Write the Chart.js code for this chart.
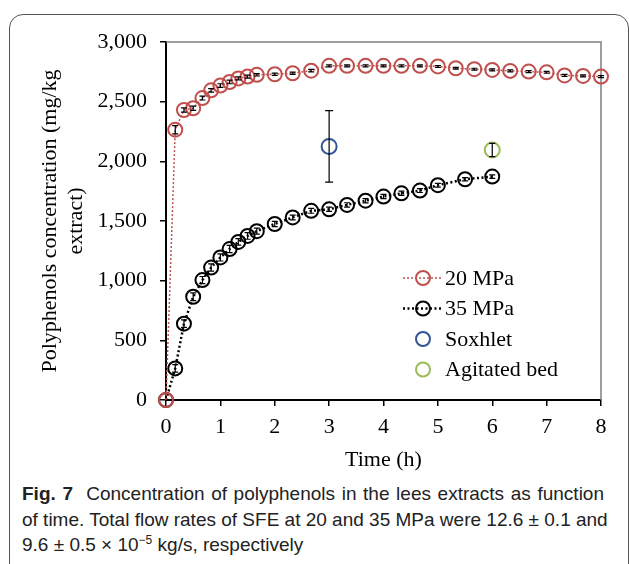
<!DOCTYPE html>
<html>
<head>
<meta charset="utf-8">
<script src="https://cdn.jsdelivr.net/npm/chart.js@4"></script>
<style>
  body { margin: 0; background: #fff; width: 629px; height: 564px; overflow: hidden; position: relative; }
  #frame { position: absolute; left: 9px; top: 14px; width: 618px; height: 600px; border: 1.5px solid #555; border-radius: 14px; }
  #wrap { position: absolute; left: 0; top: 0; width: 629px; height: 478px; }
  #caption { position: absolute; left: 22px; top: 481px; width: 582px; font-family: "Liberation Sans", Arial, sans-serif; font-size: 19px; line-height: 25.5px; color: #222; }
  #caption .j { text-align: justify; text-align-last: justify; white-space: nowrap; }
  #caption b { font-weight: bold; }
  sup { font-size: 12px; line-height: 0; vertical-align: 7px; }
</style>
</head>
<body>
<div id="frame"></div>
<div id="wrap"><canvas id="chart" width="629" height="478"></canvas></div>
<div id="caption">
  <div class="j"><b>Fig. 7</b>&nbsp; Concentration of polyphenols in the lees extracts as function</div>
  <div class="j">of time. Total flow rates of SFE at 20 and 35 MPa were 12.6 ± 0.1 and</div>
  <div>9.6 ± 0.5 × 10<sup>−5</sup> kg/s, respectively</div>
</div>
<script>
// time (h) and polyphenol concentration (mg/kg extract)
const time20 = [0, 0.17, 0.33, 0.5, 0.67, 0.83, 1, 1.17, 1.33, 1.5, 1.67, 2, 2.33, 2.67, 3, 3.33, 3.67, 4, 4.33, 4.67, 5, 5.33, 5.67, 6, 6.33, 6.67, 7, 7.33, 7.67, 8];
const conc20 = [0, 2265, 2430, 2445, 2530, 2595, 2635, 2665, 2695, 2710, 2725, 2730, 2738, 2760, 2800, 2800, 2800, 2800, 2800, 2800, 2795, 2780, 2772, 2766, 2758, 2752, 2746, 2720, 2716, 2710];
const err20 = [0, 35, 18, 18, 16, 15, 15, 15, 12, 12, 10, 10, 10, 10, 8, 8, 8, 8, 8, 8, 8, 8, 8, 8, 8, 8, 8, 8, 8, 8];

const time35 = [0, 0.17, 0.33, 0.5, 0.67, 0.83, 1, 1.17, 1.33, 1.5, 1.67, 2, 2.33, 2.67, 3, 3.33, 3.67, 4, 4.33, 4.67, 5, 5.5, 6];
const conc35 = [0, 265, 640, 865, 1005, 1110, 1195, 1265, 1325, 1375, 1415, 1475, 1530, 1585, 1598, 1635, 1670, 1705, 1732, 1755, 1800, 1850, 1872];
const err35 = [0, 32, 32, 32, 30, 30, 30, 30, 28, 28, 25, 22, 20, 20, 18, 18, 18, 18, 18, 16, 16, 14, 14];

const timeSox = [3];
const concSox = [2125];
const errSox = [300];

const timeAgi = [6];
const concAgi = [2095];
const errAgi = [55];

const xTicks = [0, 1, 2, 3, 4, 5, 6, 7, 8];
const yTicks = [0, 500, 1000, 1500, 2000, 2500, 3000];

const serif = '"Liberation Serif", "Times New Roman", serif';
const red = '#C0504D', blue = '#2F5597', green = '#9BBB59';

function points(xs, ys) {
  return xs.map((x, i) => ({ x: x, y: ys[i] }));
}

const extras = {
  id: 'extras',
  beforeDatasetsDraw(chart) {
    const { ctx, chartArea: a } = chart;
    ctx.save();
    ctx.strokeStyle = '#7f7f7f';
    ctx.lineWidth = 1.5;
    ctx.beginPath();
    ctx.moveTo(a.left, a.top);
    ctx.lineTo(a.right, a.top);
    ctx.lineTo(a.right, a.bottom);
    ctx.stroke();
    ctx.restore();
  },
  afterDatasetsDraw(chart) {
    const { ctx } = chart;
    const yScale = chart.scales.y;
    ctx.save();
    ctx.strokeStyle = '#000';
    ctx.lineWidth = 1.2;
    chart.data.datasets.forEach((ds, i) => {
      const meta = chart.getDatasetMeta(i);
      meta.data.forEach((pt, j) => {
        const e = ds.errors[j];
        if (!e) return;
        const v = ds.data[j].y;
        const top = yScale.getPixelForValue(v + e);
        const bot = yScale.getPixelForValue(v - e);
        const w = ds.capWidth;
        ctx.beginPath();
        ctx.moveTo(pt.x, top); ctx.lineTo(pt.x, bot);
        ctx.moveTo(pt.x - w, top); ctx.lineTo(pt.x + w, top);
        ctx.moveTo(pt.x - w, bot); ctx.lineTo(pt.x + w, bot);
        ctx.stroke();
      });
    });
    ctx.restore();
  },
  afterDraw(chart) {
    const { ctx, chartArea: a } = chart;
    const items = [
      { label: '20 MPa', color: red, line: true, width: 1.5, dash: [2, 2] },
      { label: '35 MPa', color: '#000', line: true, width: 2.5, dash: [2, 2.5] },
      { label: 'Soxhlet', color: blue, line: false },
      { label: 'Agitated bed', color: green, line: false }
    ];
    ctx.save();
    ctx.font = '22px ' + serif;
    ctx.textBaseline = 'middle';
    items.forEach((it, k) => {
      const y = a.top + 236 + k * 30.5;
      const x0 = a.left + 237, x1 = a.left + 276, cx = a.left + 257;
      if (it.line) {
        ctx.setLineDash(it.dash);
        ctx.strokeStyle = it.color;
        ctx.lineWidth = it.width;
        ctx.beginPath(); ctx.moveTo(x0, y); ctx.lineTo(x1, y); ctx.stroke();
        ctx.setLineDash([]);
      }
      ctx.strokeStyle = it.color;
      ctx.lineWidth = 2;
      ctx.beginPath(); ctx.arc(cx, y, 7, 0, Math.PI * 2); ctx.stroke();
      ctx.fillStyle = '#000';
      ctx.fillText(it.label, a.left + 279, y + 1);
    });
    ctx.restore();
  }
};

new Chart(document.getElementById('chart'), {
  type: 'scatter',
  data: {
    datasets: [
      {
        label: '20 MPa', data: points(time20, conc20), errors: err20, capWidth: 3,
        showLine: true, borderColor: red, borderWidth: 1.5, borderDash: [2, 2],
        pointRadius: 7, pointBorderWidth: 2, pointBorderColor: red, pointBackgroundColor: 'rgba(0,0,0,0)', clip: false
      },
      {
        label: '35 MPa', data: points(time35, conc35), errors: err35, capWidth: 3,
        showLine: true, borderColor: '#000', borderWidth: 2.5, borderDash: [2, 2.5],
        pointRadius: 7, pointBorderWidth: 2, pointBorderColor: '#000', pointBackgroundColor: 'rgba(0,0,0,0)', clip: false
      },
      {
        label: 'Soxhlet', data: points(timeSox, concSox), errors: errSox, capWidth: 4,
        pointRadius: 7.5, pointBorderWidth: 2, pointBorderColor: blue, pointBackgroundColor: 'rgba(0,0,0,0)', clip: false
      },
      {
        label: 'Agitated bed', data: points(timeAgi, concAgi), errors: errAgi, capWidth: 3,
        pointRadius: 7.5, pointBorderWidth: 2, pointBorderColor: green, pointBackgroundColor: 'rgba(0,0,0,0)', clip: false
      }
    ]
  },
  options: {
    responsive: false,
    animation: false,
    layout: { padding: { left: 0, right: 28, top: 42, bottom: 0 } },
    plugins: { legend: { display: false }, tooltip: { enabled: false } },
    scales: {
      x: {
        type: 'linear', min: 0, max: 8,
        afterFit(scale) { scale.height = 78; },
        afterBuildTicks(scale) { scale.ticks = xTicks.map(v => ({ value: v })); },
        grid: { drawOnChartArea: false, drawTicks: true, tickLength: 6, color: '#000', lineWidth: 1.5 },
        border: { color: '#000', width: 2 },
        ticks: { color: '#000', padding: 8, font: { family: serif, size: 22 } },
        title: { display: true, text: 'Time (h)', color: '#000', padding: { top: 0, bottom: 5 }, font: { family: serif, size: 22, lineHeight: 1.18 } }
      },
      y: {
        min: 0, max: 3000,
        afterFit(scale) { scale.width = 166; },
        afterBuildTicks(scale) { scale.ticks = yTicks.map(v => ({ value: v })); },
        grid: { drawOnChartArea: false, drawTicks: true, tickLength: 6, color: '#000', lineWidth: 1.5 },
        border: { color: '#000', width: 2 },
        ticks: { color: '#000', padding: 13, font: { family: serif, size: 22 }, callback: v => v.toLocaleString('en-US') },
        title: { display: true, text: ['Polyphenols concentration (mg/kg', 'extract)'], color: '#000', padding: { top: 37, bottom: 0 }, font: { family: serif, size: 22, lineHeight: 1.18 } }
      }
    }
  },
  plugins: [extras]
});
</script>
</body>
</html>
